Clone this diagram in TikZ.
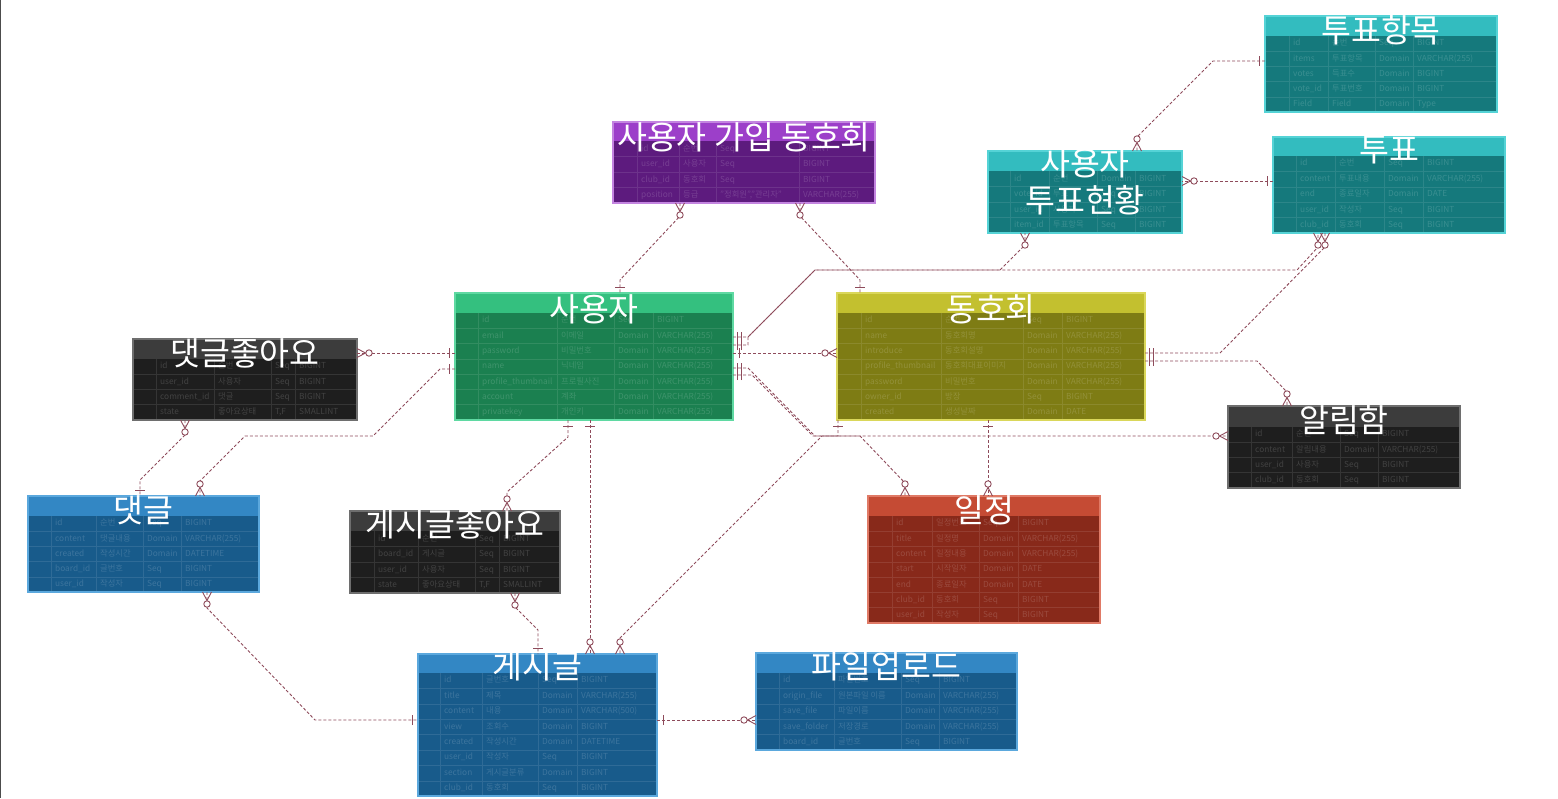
\documentclass[tikz,border=0pt]{standalone}
\usepackage{fontspec}
\setmainfont{Noto Sans CJK KR}
\usetikzlibrary{positioning}
\usetikzlibrary{decorations.markings}

\definecolor{relc}{HTML}{8E4B5B}
\definecolor{purH}{HTML}{9C3FC9}\definecolor{purB}{HTML}{5D1B7E}\definecolor{purL}{HTML}{C384E0}
\definecolor{grnH}{HTML}{34C07F}\definecolor{grnB}{HTML}{1B8050}\definecolor{grnL}{HTML}{5FD9A2}
\definecolor{olvH}{HTML}{C3C02F}\definecolor{olvB}{HTML}{7E7C14}\definecolor{olvL}{HTML}{DAD75A}
\definecolor{telH}{HTML}{33BCBF}\definecolor{telB}{HTML}{15797C}\definecolor{telL}{HTML}{55D3D6}
\definecolor{drkH}{HTML}{3C3C3C}\definecolor{drkB}{HTML}{1E1E1E}\definecolor{drkL}{HTML}{6E6E6E}
\definecolor{bluH}{HTML}{3387C4}\definecolor{bluB}{HTML}{185B8B}\definecolor{bluL}{HTML}{5BA8DD}
\definecolor{rddH}{HTML}{C54B34}\definecolor{rddB}{HTML}{88291A}\definecolor{rddL}{HTML}{E07A66}

\tikzset{
    tablebox/.style = {rectangle, inner sep=0pt, outer sep=0pt, fill=#1B},
    cellgrid/.style = {draw=#1B!90!white, line width=0.6pt},
    celltext/.style = {anchor=west, inner sep=0pt, text height=6pt, text depth=1.5pt, text=#1B!84!white, font=\fontsize{8.3}{9}\selectfont},
    tabletitle/.style = {inner sep=0pt, text=white, align=center, font=\fontsize{32.5}{37}\selectfont},
    tableedge/.style = {draw=#1L, line width=1.2pt},
    leftrule/.style = {draw=black!70, line width=1.2pt},
    rel/.style = {draw=relc, densely dashed, line width=0.9pt},
    mk/.style = {solid, draw=relc, line width=0.9pt},
    one start/.style = {postaction={decorate, decoration={markings, mark=at position 6pt with {\draw[mk] (0,-5pt) -- (0,5pt);}}}},
    one end/.style = {postaction={decorate, decoration={markings, mark=at position -6pt with {\draw[mk] (0,-5pt) -- (0,5pt);}}}},
    two start/.style = {postaction={decorate, decoration={markings, mark=at position 4pt with {\draw[mk] (0,-5pt) -- (0,5pt);}, mark=at position 8pt with {\draw[mk] (0,-5pt) -- (0,5pt);}}}},
    many start/.style = {postaction={decorate, decoration={markings, mark=at position 0.5pt with {\draw[mk] (-0.5pt,-4.5pt) -- (8pt,0) -- (-0.5pt,4.5pt); \draw[mk, fill=white] (11.5pt,0) circle (3.2pt);}}}},
    many end/.style = {postaction={decorate, decoration={markings, mark=at position -0.5pt with {\draw[mk] (0.5pt,-4.5pt) -- (-8pt,0) -- (0.5pt,4.5pt); \draw[mk, fill=white] (-11.5pt,0) circle (3.2pt);}}}}
}

% box and header: name, colour, x, y, width, height, header height
\newcommand\ertable[7]{%
  \node[tablebox=#2, minimum width=#5pt, minimum height=#6pt] (#1) at (#3+#5/2, #4+#6/2) {};
  \fill[#2H] (#1.north west) rectangle ([yshift=-#7pt]#1.north east);
}
% rows: name, colour, header bottom, row height, four column lines, rows
\newcommand\errows[9]{%
  \foreach \d in {#5,#6,#7,#8}
    \draw[cellgrid=#2] (\d,#3) -- (#1.south -| \d,0);
  \foreach \va/\vb/\vc/\vd [count=\i] in {#9} {
    \pgfmathsetmacro\yy{#3+\i*#4}
    \pgfmathsetmacro\ym{#3+(\i-0.5)*#4}
    \draw[cellgrid=#2] (#1.west |- 0,\yy) -- (#1.east |- 0,\yy);
    \node[celltext=#2] (#1-\i-a) at (#5+4,\ym) {\va};
    \node[celltext=#2] (#1-\i-b) at (#6+4,\ym) {\vb};
    \node[celltext=#2] (#1-\i-c) at (#7+4,\ym) {\vc};
    \node[celltext=#2] (#1-\i-d) at (#8+4,\ym) {\vd};
  }
  \draw[tableedge=#2] (#1.north west) rectangle (#1.south east);
}

\begin{document}
\begin{tikzpicture}[x=1pt, y=-1pt]
\useasboundingbox (0,0) rectangle (1558,798);
\draw[leftrule] (0.7,0) -- (0.7,798);
%
\ertable{cmember}{pur}{613}{122}{262}{81}{19}
\errows{cmember}{pur}{141}{15.5}{637}{679}{716}{799}{id/순번/Seq/BIGINT, user\_id/사용자/Seq/BIGINT, club\_id/동호회/Seq/BIGINT, position/등급/{"정회원","관리자"}/VARCHAR(255)}
\node[tabletitle] (cmember-title) at ([yshift=-15.5pt]cmember.north) {사용자 가입 동호회};
%
\ertable{user}{grn}{455}{293}{278}{127}{20}
\errows{user}{grn}{313}{15.29}{478}{557}{614}{653}{id/순번/Seq/BIGINT, email/이메일/Domain/VARCHAR(255), password/비밀번호/Domain/VARCHAR(255), name/닉네임/Domain/VARCHAR(255), profile\_thumbnail/프로필사진/Domain/VARCHAR(255), account/계좌/Domain/VARCHAR(255), privatekey/개인키/Domain/VARCHAR(255)}
\node[tabletitle] (user-title) at ([yshift=-16pt]user.north) {사용자};
%
\ertable{club}{olv}{837}{293}{308}{127}{20}
\errows{club}{olv}{313}{15.29}{861}{941}{1023}{1062}{id/순번/Seq/BIGINT, name/동호회명/Domain/VARCHAR(255), introduce/동호회설명/Domain/VARCHAR(255), profile\_thumbnail/동호회대표이미지/Domain/VARCHAR(255), password/비밀번호/Domain/VARCHAR(255), owner\_id/방장/Seq/BIGINT, created/생성날짜/Domain/DATE}
\node[tabletitle] (club-title) at ([yshift=-16pt]club.north) {동호회};
%
\ertable{vitem}{tel}{1265}{16}{232}{96}{20}
\errows{vitem}{tel}{36}{15.2}{1289}{1328}{1375}{1413}{id/순번/Seq/BIGINT, items/투표항목/Domain/VARCHAR(255), votes/득표수/Domain/BIGINT, vote\_id/투표번호/Domain/BIGINT, Field/Field/Domain/Type}
\node[tabletitle] (vitem-title) at ([yshift=-14pt]vitem.north) {투표항목};
%
\ertable{vote}{tel}{1273}{137}{232}{96}{19}
\errows{vote}{tel}{156}{15.4}{1296}{1335}{1384}{1423}{id/순번/Seq/BIGINT, content/투표내용/Domain/VARCHAR(255), end/종료일자/Domain/DATE, user\_id/작성자/Seq/BIGINT, club\_id/동호회/Seq/BIGINT}
\node[tabletitle] (vote-title) at ([yshift=-13pt]vote.north) {투표};
%
\ertable{uvote}{tel}{988}{151}{194}{82}{20}
\errows{uvote}{tel}{171}{15.5}{1010}{1049}{1097}{1135}{id/순번/Domain/BIGINT, vote\_id/투표/Seq/BIGINT, user\_id/사용자/Seq/BIGINT, item\_id/투표항목/Seq/BIGINT}
\node[tabletitle] (uvote-title) at ([yshift=-31pt]uvote.north) {사용자\\투표현황};
%
\ertable{clike}{drk}{133}{339}{224}{81}{20}
\errows{clike}{drk}{359}{15.25}{156}{214}{271}{295}{id/순번/Seq/BIGINT, user\_id/사용자/Seq/BIGINT, comment\_id/댓글/Seq/BIGINT, state/좋아요상태/{T,F}/SMALLINT}
\node[tabletitle] (clike-title) at ([yshift=-14pt]clike.north) {댓글좋아요};
%
\ertable{comment}{blu}{28}{496}{231}{96}{20}
\errows{comment}{blu}{516}{15.2}{51}{96}{143}{181}{id/순번/Seq/BIGINT, content/댓글내용/Domain/VARCHAR(255), created/작성시간/Domain/DATETIME, board\_id/글번호/Seq/BIGINT, user\_id/작성자/Seq/BIGINT}
\node[tabletitle] (comment-title) at ([yshift=-14pt]comment.north) {댓글};
%
\ertable{blike}{drk}{350}{511}{210}{82}{20}
\errows{blike}{drk}{531}{15.5}{374}{418}{475}{499}{id/순번/Seq/BIGINT, board\_id/게시글/Seq/BIGINT, user\_id/사용자/Seq/BIGINT, state/좋아요상태/{T,F}/SMALLINT}
\node[tabletitle] (blike-title) at ([yshift=-13pt]blike.north) {게시글좋아요};
%
\ertable{board}{blu}{418}{654}{239}{142}{19}
\errows{board}{blu}{673}{15.4}{440}{482}{538}{577}{id/글번호/Seq/BIGINT, title/제목/Domain/VARCHAR(255), content/내용/Domain/VARCHAR(500), view/조회수/Domain/BIGINT, created/작성시간/Domain/DATETIME, user\_id/작성자/Seq/BIGINT, section/게시글분류/Domain/BIGINT, club\_id/동호회/Seq/BIGINT}
\node[tabletitle] (board-title) at ([yshift=-12pt]board.north) {게시글};
%
\ertable{sched}{rdd}{868}{496}{232}{127}{20}
\errows{sched}{rdd}{516}{15.29}{892}{932}{979}{1018}{id/일정번호/Seq/BIGINT, title/일정명/Domain/VARCHAR(255), content/일정내용/Domain/VARCHAR(255), start/시작일자/Domain/DATE, end/종료일자/Domain/DATE, club\_id/동호회/Seq/BIGINT, user\_id/작성자/Seq/BIGINT}
\node[tabletitle] (sched-title) at ([yshift=-14pt]sched.north) {일정};
%
\ertable{file}{blu}{756}{653}{261}{97}{20}
\errows{file}{blu}{673}{15.4}{779}{834}{901}{939}{id/파일번호/Seq/BIGINT, origin\_file/원본파일 이름/Domain/VARCHAR(255), save\_file/파일이름/Domain/VARCHAR(255), save\_folder/저장경로/Domain/VARCHAR(255), board\_id/글번호/Seq/BIGINT}
\node[tabletitle] (file-title) at ([yshift=-13pt]file.north) {파일업로드};
%
\ertable{alarm}{drk}{1228}{406}{232}{82}{21}
\errows{alarm}{drk}{427}{15.25}{1251}{1292}{1340}{1378}{id/순번/Seq/BIGINT, content/알림내용/Domain/VARCHAR(255), user\_id/사용자/Seq/BIGINT, club\_id/동호회/Seq/BIGINT}
\node[tabletitle] (alarm-title) at ([yshift=-14pt]alarm.north) {알림함};
%
\draw[rel, one start, many end] (vitem.west |- 0,61) -- (1213,61) -- (1137,137) -- (uvote.north -| 1137,0);
\draw[rel, one start, many end] (vote.west |- 0,181) -- (uvote.east |- 0,181);
\draw[rel, two start, many end] (user.east |- 0,337) -- (748,337) -- (815,270) -- (1000,270) -- (1025,245) -- (uvote.south -| 1025,0);
\draw[rel, two start, many end] (user.east |- 0,345) -- (748,345) -- (748,337) -- (815,270) -- (1297,270) -- (1318,247) -- (vote.south -| 1318,0);
\draw[rel, one start, many end] (user.east |- 0,353) -- (club.west |- 0,353);
\draw[rel, two start, many end] (user.east |- 0,368) -- (748,368) -- (815,436) -- (860,436) -- (905,483) -- (sched.north -| 905,0);
\draw[rel, two start, many end] (user.east |- 0,375) -- (752,375) -- (813,436) -- (alarm.west |- 0,436);
\draw[rel, two start, many end] (club.east |- 0,353) -- (1220,353) -- (1325,247) -- (vote.south -| 1325,0);
\draw[rel, two start, many end] (club.east |- 0,361) -- (1257,361) -- (1287,392) -- (alarm.north -| 1287,0);
\draw[rel, one start, many end] (club.south -| 838,0) -- (838,436) -- (822,436) -- (620,638) -- (board.north -| 620,0);
\draw[rel, one start, many end] (club.south -| 988,0) -- (sched.north -| 988,0);
\draw[rel, many start, one end] (cmember.south -| 680,0) -- (680,216) -- (620,280) -- (user.north -| 620,0);
\draw[rel, many start, one end] (cmember.south -| 800,0) -- (800,216) -- (860,280) -- (club.north -| 860,0);
\draw[rel, many start, one end] (clike.east |- 0,353) -- (user.west |- 0,353);
\draw[rel, one start, many end] (user.west |- 0,369) -- (440,369) -- (373,436) -- (245,436) -- (200,481) -- (comment.north -| 200,0);
\draw[rel, many start, one end] (clike.south -| 185,0) -- (185,435) -- (140,480) -- (comment.north -| 140,0);
\draw[rel, one start, many end] (user.south -| 568,0) -- (568,437) -- (507,492) -- (blike.north -| 507,0);
\draw[rel, one start, many end] (user.south -| 590,0) -- (board.north -| 590,0);
\draw[rel, many start, one end] (blike.south -| 515,0) -- (515,607) -- (538,630) -- (board.north -| 538,0);
\draw[rel, many start, one end] (comment.south -| 207,0) -- (207,608) -- (315,720) -- (board.west |- 0,720);
\draw[rel, one start, many end] (board.east |- 0,720) -- (file.west |- 0,720);
\end{tikzpicture}
\end{document}
